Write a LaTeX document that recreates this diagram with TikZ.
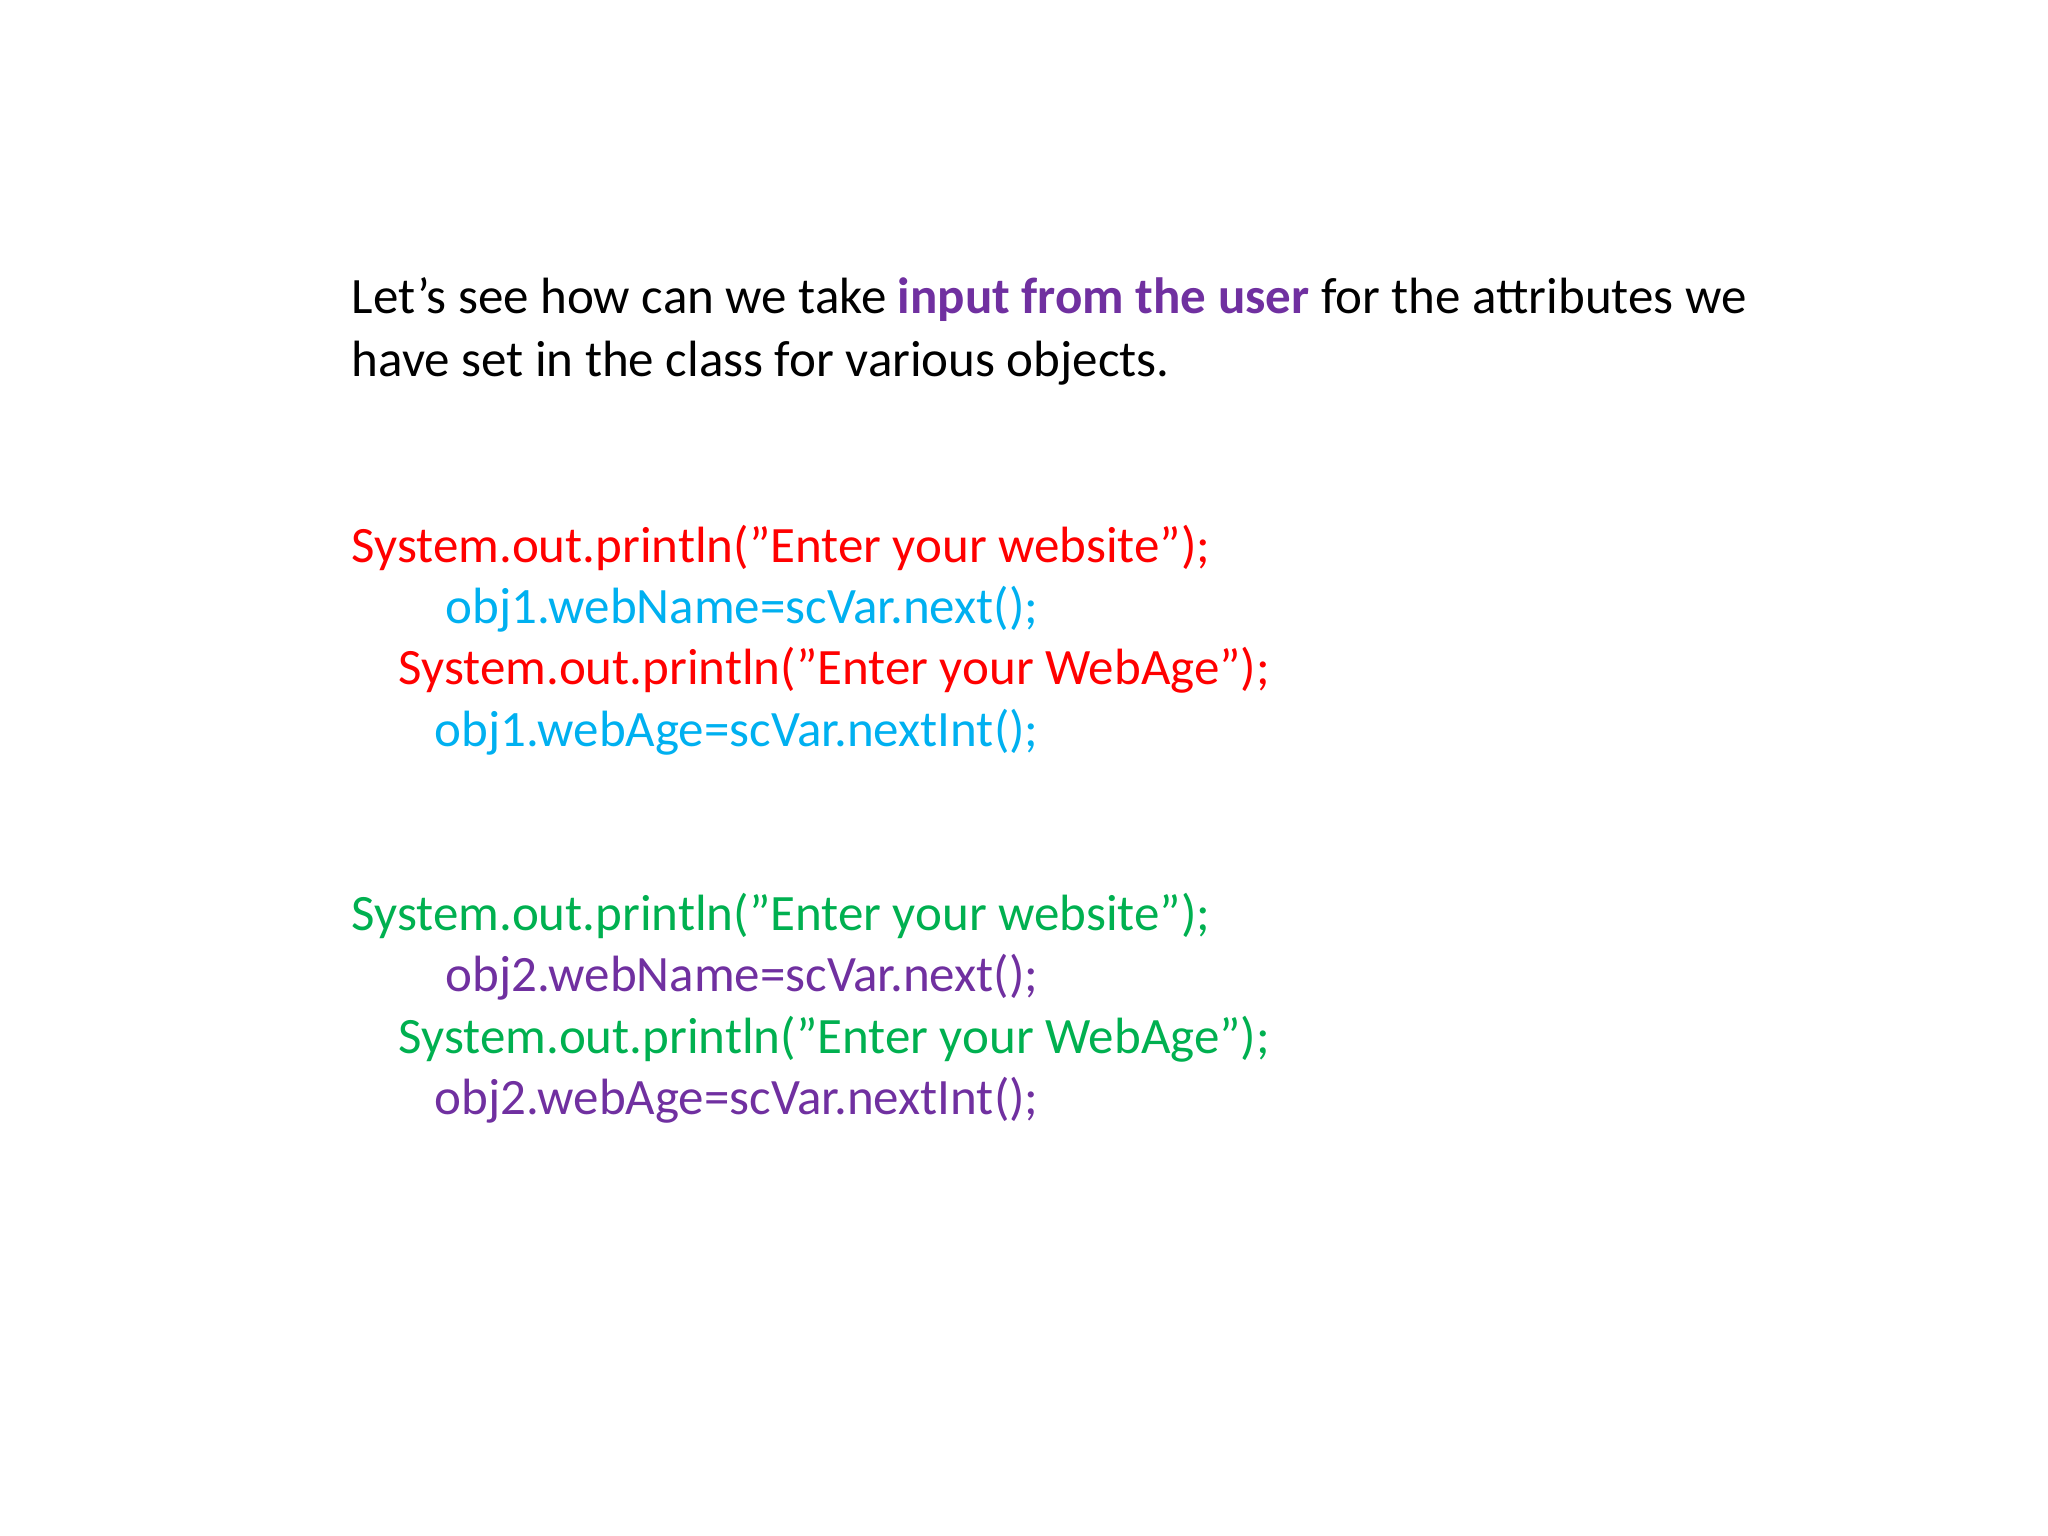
\documentclass[tikz,border=0pt]{standalone}
\usepackage{fontspec}
\setmainfont{Carlito}
\definecolor{cred}{HTML}{FF0000}
\definecolor{cblue}{HTML}{00B0F0}
\definecolor{cgreen}{HTML}{00B050}
\definecolor{cpurple}{HTML}{7030A0}
\begin{document}
\begin{tikzpicture}[x=0.01cm,y=-0.01cm,
  txt/.style={anchor=base west,inner sep=0pt,font=\fontsize{14.5pt}{17pt}\selectfont}]
\useasboundingbox (0,0) rectangle (2048,1536);
\node[txt] (l1) at (351,313) {Let’s see how can we take \textcolor{cpurple}{\textbf{input from the user}} for the attributes we};
\node[txt] (l2) at (351,376) {have set in the class for various objects.};
\node[txt,text=cred] (a1) at (351,562) {System.out.println("Enter your website");};
\node[txt,text=cblue] (a2) at (445,623) {obj1.webName=scVar.next();};
\node[txt,text=cred] (a3) at (398,684) {System.out.println("Enter your WebAge");};
\node[txt,text=cblue] (a4) at (434,746) {obj1.webAge=scVar.nextInt();};
\node[txt,text=cgreen] (b1) at (351,930) {System.out.println("Enter your website");};
\node[txt,text=cpurple] (b2) at (445,991) {obj2.webName=scVar.next();};
\node[txt,text=cgreen] (b3) at (398,1053) {System.out.println("Enter your WebAge");};
\node[txt,text=cpurple] (b4) at (434,1114) {obj2.webAge=scVar.nextInt();};
\end{tikzpicture}
\end{document}
